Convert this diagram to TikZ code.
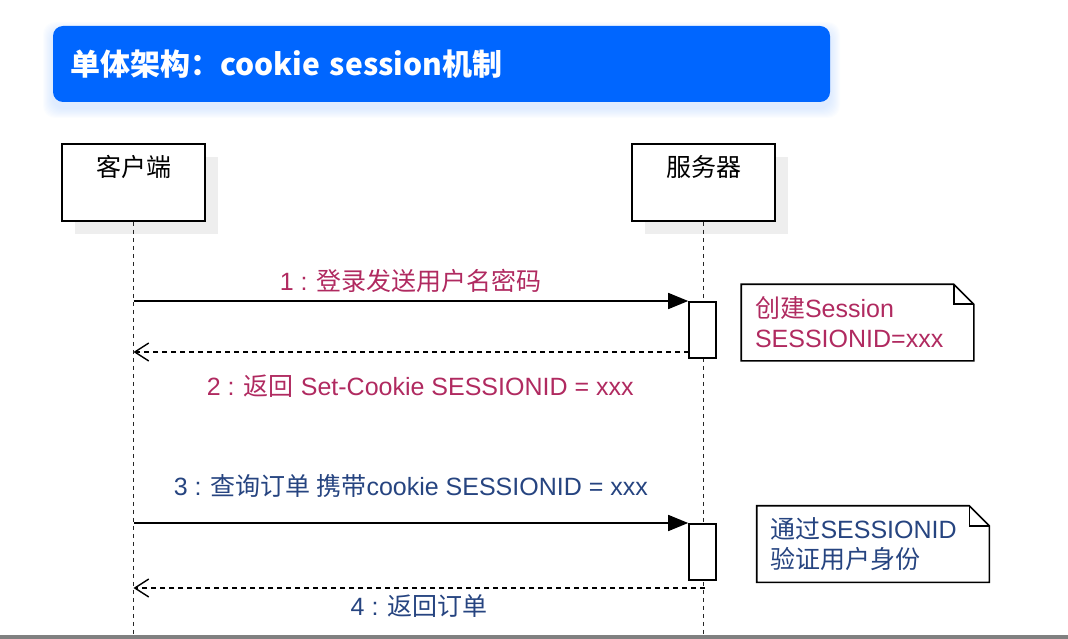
\documentclass[tikz,border=0pt]{standalone}
\usepackage{fontspec}
\setmainfont{Liberation Sans}
\newfontfamily\cjk{Noto Sans CJK SC}
\usetikzlibrary{arrows.meta}
\definecolor{titleblue}{RGB}{0,102,255}
\definecolor{msgred}{RGB}{176,42,96}
\definecolor{msgblue}{RGB}{38,68,128}
\definecolor{boxshadow}{RGB}{238,238,238}
\newcommand{\zh}[1]{{\cjk #1}}

\begin{document}
\begin{tikzpicture}[x=1pt, y=-1pt, line width=1.6pt, font=\fontsize{25}{30}\selectfont,
	actor/.style={draw, fill=white, minimum width=143pt, minimum height=77pt, inner sep=0pt},
	actbar/.style={draw, fill=white, minimum width=27pt, minimum height=56pt, inner sep=0pt},
	note/.style={minimum width=231pt, minimum height=75pt, inner xsep=13pt, inner ysep=0pt, text width=205pt, align=left},
	lifeline/.style={dash pattern=on 4pt off 4pt, line width=1.5pt, black!85},
	call/.style={-{Triangle[length=20pt,width=16pt]}},
	reply/.style={dash pattern=on 5pt off 4pt, line width=1.4pt, -{Straight Barb[length=14pt,width=18pt,line width=1.4pt]}}]
	\useasboundingbox (0,0) rectangle (1068,639);
	
	% 标题栏阴影
	\foreach \i in {1,...,10}
		\fill[titleblue!30, opacity=0.05, rounded corners=12pt] (53-\i, 32-\i) rectangle (830+\i, 108+\i);
	
	% 标题栏
	\node[fill=titleblue, rounded corners=10pt, minimum width=777pt, minimum height=76pt,
		inner xsep=17pt, text width=743pt, align=left, text=white,
		font=\cjk\bfseries\fontsize{30}{34}\selectfont] (title) at (441.5,64) {单体架构：cookie session机制};
	
	% 参与者阴影
	\fill[boxshadow] (75,157) rectangle (218,234);
	\fill[boxshadow] (645,157) rectangle (788,234);
	
	% 参与者
	\coordinate (bottom) at (0,635);
	\node[actor] (client) at (133.5,182.5) {};
	\node[actor] (server) at (703.5,182.5) {};
	\node[font=\cjk\fontsize{25}{30}\selectfont] (clientname) at (133.5,167) {客户端};
	\node[font=\cjk\fontsize{25}{30}\selectfont] (servername) at (703.5,167) {服务器};
	
	% 生命线
	\draw[lifeline] (client.south) -- (client.south |- bottom);
	\draw[lifeline] (server.south) -- (server.south |- bottom);
	
	% 激活条
	\node[actbar, anchor=north] (bar1) at (702.5,301) {};
	\node[actbar, anchor=north] (bar2) at (702.5,523) {};
	
	% 消息
	\coordinate (ret1) at (689,352);
	\coordinate (ret2) at (705,588);
	\draw[call] (client.south |- bar1.north west) -- (bar1.north west)
		node[midway, yshift=20pt, text=msgred] (msg1) {1 : \zh{登录发送用户名密码}};
	\draw[reply] (ret1) -- (client.south |- ret1)
		node[midway, yshift=-34pt, xshift=9pt, text=msgred] (msg2) {2 : \zh{返回} Set-Cookie SESSIONID = xxx};
	\draw[call] (client.south |- bar2.north west) -- (bar2.north west)
		node[midway, yshift=37pt, text=msgblue] (msg3) {3 : \zh{查询订单 携带}cookie SESSIONID = xxx};
	\draw[reply] (ret2) -- (client.south |- ret2)
		node[midway, yshift=-18pt, text=msgblue] (msg4) {4 : \zh{返回订单}};
	
	% 注释 (折角)
	\node[note, text=msgred] (note1) at (857.5,322.5) {\zh{创建}Session\\SESSIONID=xxx};
	\node[note, text=msgblue] (note2) at (873,544) {\zh{通过}SESSIONID\\\zh{验证用户身份}};
	\foreach \n in {note1, note2} {
		\draw (\n.south west) |- ([xshift=-20pt]\n.north east) -- ([yshift=-20pt]\n.north east) |- cycle;
		\draw ([xshift=-20pt]\n.north east) |- ([yshift=-20pt]\n.north east);
	}
	
	% 底部灰条
	\fill[gray] (0,635) rectangle (1068,639);
\end{tikzpicture}
\end{document}
